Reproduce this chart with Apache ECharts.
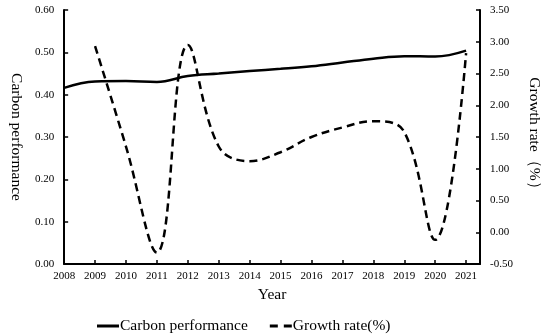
<!DOCTYPE html>
<html>
<head>
<meta charset="utf-8">
<script src="https://cdn.jsdelivr.net/npm/echarts@6/dist/echarts.min.js"></script>
<style>html,body{margin:0;padding:0;background:#fff}#c{width:550px;height:336px}</style>
</head>
<body>
<div id="c"></div>
<script>
var years = [2008, 2009, 2010, 2011, 2012, 2013, 2014, 2015, 2016, 2017, 2018, 2019, 2020, 2021];
var carbonPerformance = [0.416, 0.431, 0.432, 0.430, 0.444, 0.450, 0.456, 0.461, 0.467, 0.476, 0.485, 0.491, 0.490, 0.504];
var growthYears = [2009, 2010, 2011, 2012, 2013, 2014, 2015, 2016, 2017, 2018, 2019, 2020, 2021];
var growthRate = [2.93, 1.35, -0.32, 2.95, 1.35, 1.12, 1.26, 1.50, 1.65, 1.75, 1.58, -0.12, 2.82];
var leftTicks = {min: 0, max: 0.6, interval: 0.1};
var rightTicks = {min: -0.5, max: 3.5, interval: 0.5};

var font = 'Liberation Serif, Times New Roman, serif';
var chart = echarts.init(document.getElementById('c'), null, {renderer: 'canvas'});
chart.setOption({
  animation: false,
  backgroundColor: '#fff',
  grid: {left: 58, right: 58, top: 10, bottom: 72, containLabel: false},
  legend: {
    left: 92, top: 313, itemWidth: 22, itemHeight: 3, itemGap: 22,
    textStyle: {fontFamily: font, fontSize: 15.5, color: '#000', padding: [0, 0, 0, -4]},
    data: [
      {name: 'Carbon performance', icon: 'path://M0,0h22v3h-22z'},
      {name: 'Growth rate(%)', icon: 'path://M0,0h8v3h-8z M14,0h8v3h-8z'}
    ]
  },
  xAxis: {
    type: 'value', min: 2008, max: 2021.45, interval: 1,
    name: 'Year', nameLocation: 'middle', nameGap: 22,
    nameTextStyle: {fontFamily: font, fontSize: 15.5, color: '#000'},
    axisLine: {lineStyle: {color: '#000', width: 2}},
    axisTick: {inside: true, length: 4, lineStyle: {color: '#000', width: 1.5}},
    axisLabel: {fontFamily: font, fontSize: 11, color: '#000', margin: 7, showMaxLabel: false,
      formatter: function (v) { return Number.isInteger(v) ? String(v) : ''; }},
    splitLine: {show: false}
  },
  yAxis: [{
    type: 'value', min: leftTicks.min, max: leftTicks.max, interval: leftTicks.interval,
    name: 'Carbon performance', nameLocation: 'middle', nameGap: 40, nameRotate: -90,
    nameTextStyle: {fontFamily: font, fontSize: 15.5, color: '#000'},
    axisLine: {show: true, lineStyle: {color: '#000', width: 2}},
    axisTick: {show: true, inside: true, length: 4, lineStyle: {color: '#000', width: 1.5}},
    axisLabel: {fontFamily: font, fontSize: 11, color: '#000', margin: 10,
      formatter: function (v) { return v.toFixed(2); }},
    splitLine: {show: false}
  }, {
    type: 'value', min: rightTicks.min, max: rightTicks.max, interval: rightTicks.interval,
    position: 'right',
    name: 'Growth rate（%）', nameLocation: 'middle', nameGap: 46, nameRotate: -90,
    nameTextStyle: {fontFamily: font, fontSize: 15.5, color: '#000'},
    axisLine: {show: true, lineStyle: {color: '#000', width: 2}},
    axisTick: {show: true, inside: true, length: 4, lineStyle: {color: '#000', width: 1.5}},
    axisLabel: {fontFamily: font, fontSize: 11, color: '#000', margin: 10,
      formatter: function (v) { return v.toFixed(2); }},
    splitLine: {show: false}
  }],
  series: [{
    name: 'Carbon performance', type: 'line', yAxisIndex: 0, smooth: 0.4, symbol: 'none',
    lineStyle: {color: '#000', width: 2.5},
    itemStyle: {color: '#000'},
    data: years.map(function (y, i) { return [y, carbonPerformance[i]]; })
  }, {
    name: 'Growth rate(%)', type: 'line', yAxisIndex: 1, smooth: 0.4, symbol: 'none',
    lineStyle: {color: '#000', width: 2.5, type: [8, 5]},
    itemStyle: {color: '#000'},
    data: growthYears.map(function (y, i) { return [y, growthRate[i]]; })
  }]
});
</script>
</body>
</html>
